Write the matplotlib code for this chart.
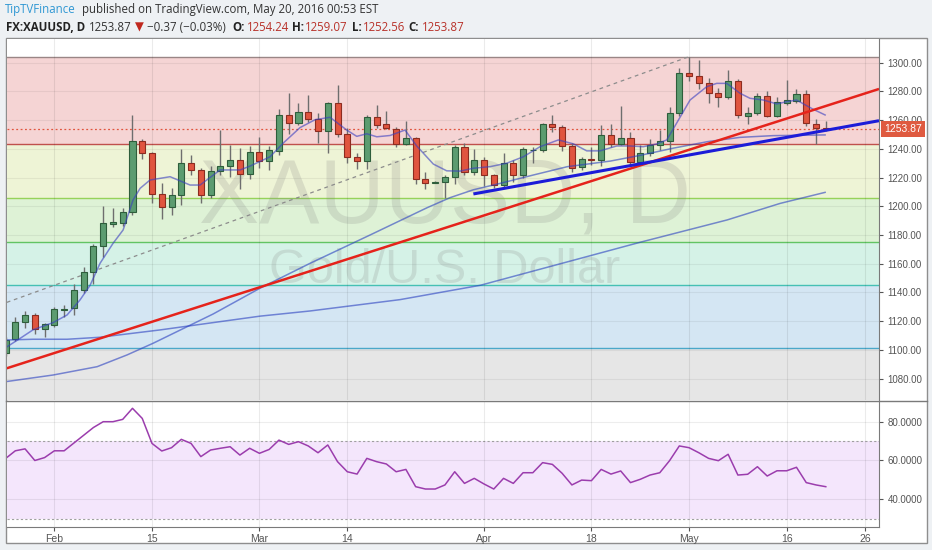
import numpy as np
import pandas as pd
import matplotlib
matplotlib.use('Agg')
import matplotlib.pyplot as plt
from matplotlib.lines import Line2D
from matplotlib.patches import Rectangle
from matplotlib import transforms

plt.rcParams['font.family'] = ['Liberation Sans', 'DejaVu Sans']

W, H = 932, 550

# ---- data (FX:XAUUSD daily, 25 Jan - 20 May 2016) ----
dates = pd.bdate_range('2016-01-25', '2016-05-20')

opens = [1098, 1107.6, 1119.6, 1124.3, 1114.3, 1117.4, 1128, 1129, 1141.7, 1154.5,
         1172.6, 1188, 1188.2, 1196.2, 1245.7, 1237, 1208.6, 1199.3, 1207.9, 1230.4,
         1225.3, 1208, 1224.6, 1228.3, 1232.2, 1222.3, 1237.6, 1231.5, 1238.7, 1263.6,
         1258.2, 1265.9, 1260.6, 1252.4, 1271.7, 1250.1, 1234.5, 1231.8, 1262, 1257.1,
         1253.6, 1243.2, 1247.4, 1219, 1216.5, 1216.7, 1220.6, 1241.5, 1224.1, 1232.2,
         1221.8, 1214.8, 1230.4, 1221.8, 1239, 1239.2, 1257.3, 1255, 1242, 1227.2,
         1233, 1232.2, 1249.6, 1243.4, 1247.4, 1231.1, 1236.9, 1242.7, 1245.7, 1264.8,
         1292.6, 1290.7, 1285.6, 1278.7, 1276.3, 1287.5, 1263.1, 1264.8, 1276.8, 1263.1,
         1272.1, 1273.3, 1278.2, 1257.5, 1254.24]
highs = [1109, 1122.7, 1127.3, 1126, 1119, 1130, 1131, 1145.7, 1157.5, 1174,
         1200.4, 1198.6, 1199, 1263.6, 1247, 1238, 1216, 1213, 1240, 1235.4,
         1226.5, 1227.8, 1253, 1242.7, 1240.4, 1242, 1248, 1242, 1267.5, 1279,
         1272, 1277.5, 1264.8, 1272.8, 1284.5, 1254.3, 1237.3, 1263.6, 1270.5, 1266.4,
         1255.4, 1259.6, 1248.5, 1224, 1217.5, 1222, 1242.7, 1244, 1239.7, 1234.5,
         1222.5, 1237, 1232.2, 1241.5, 1241.5, 1258, 1263.6, 1256.4, 1244, 1234.5,
         1241.5, 1256.6, 1257.3, 1269.8, 1252, 1242.7, 1246.7, 1253, 1269.4, 1296,
         1304, 1302, 1289, 1282.2, 1295, 1288.4, 1269, 1278.7, 1280.5, 1276.3,
         1288, 1281.5, 1281, 1260.6, 1259.07]
lows = [1096, 1106, 1115, 1111, 1108.8, 1115.7, 1123, 1124.3, 1139.8, 1146,
        1164.5, 1185.8, 1186, 1194, 1232.7, 1202, 1191, 1194, 1201, 1221.5,
        1202, 1205.6, 1221.8, 1220.6, 1211.8, 1219, 1227, 1225, 1236, 1250,
        1256.6, 1259, 1243.9, 1237, 1248, 1230, 1225.8, 1225.8, 1254.7, 1253.6,
        1241, 1242.7, 1215.5, 1211.8, 1216, 1205.6, 1215.5, 1222, 1221.8, 1214,
        1213, 1213.6, 1217, 1220, 1230, 1238, 1252, 1238.5, 1224, 1225.3,
        1228.8, 1228, 1241, 1242.7, 1228.8, 1229.5, 1235, 1239, 1238, 1263,
        1287.5, 1282, 1271.7, 1269, 1274.5, 1261.3, 1257.3, 1263.6, 1262.4, 1262.4,
        1270.5, 1271.7, 1256, 1243.5, 1252.56]
closes = [1107, 1119.6, 1124.3, 1114.3, 1117.8, 1128.3, 1128.6, 1141.7, 1154.5, 1172.6,
          1188.2, 1189, 1196.2, 1245.7, 1237, 1208.4, 1199.3, 1207.9, 1230.4, 1225.3,
          1208, 1224.6, 1228.3, 1232.2, 1222.3, 1237.6, 1231.5, 1239.2, 1263.6, 1258.2,
          1265.9, 1260.6, 1252.4, 1271.7, 1250.1, 1234.5, 1231.8, 1262, 1256.6, 1254.3,
          1243.4, 1247.4, 1219, 1216.4, 1216.8, 1220.6, 1241.5, 1224.1, 1232.2, 1221.8,
          1214.8, 1230.4, 1221.8, 1239.7, 1239.5, 1257.3, 1255, 1242, 1226.9, 1232.7,
          1232, 1249.6, 1243.4, 1247.4, 1231.1, 1237.3, 1242.7, 1245.7, 1264.8, 1293,
          1290.7, 1285.6, 1278.7, 1276.3, 1287.5, 1263.6, 1265.2, 1276.8, 1263.1, 1272.4,
          1274, 1278.2, 1257.8, 1254.2, 1253.87]

rsi = [61, 65, 66, 60, 61.5, 65, 65, 69, 73, 77,
       80, 80, 81.2, 86.9, 81.7, 68.8, 64.9, 66.6, 70.9, 68.8,
       62, 65.4, 66.3, 67.1, 62.8, 66.3, 63.7, 65.7, 70.5, 68.3,
       69.7, 67.5, 64, 68, 59.4, 54.2, 53, 61.1, 59.4, 58.2,
       54.2, 55.4, 46.5, 45.3, 45.3, 47.4, 54.2, 48.2, 50.8, 47.9,
       45.3, 50.8, 48.2, 53.7, 53.7, 58.9, 58, 53.4, 47.4, 49.9,
       49.6, 55.4, 53, 54.6, 48.6, 50.3, 52.5, 53.7, 59.9, 67.5,
       66.6, 64, 61.1, 59.9, 63.2, 52.5, 52.9, 56.8, 52, 54.7,
       54.7, 56.5, 48.6, 47.4, 46.5]

# moving averages, sampled along the drawn lines (bar index, price)
fast_ma_idx = [0.16, 1.49, 2.82, 4.87, 6.3, 7.63, 8.66, 9.68, 11.01, 12.04,
               13.06, 13.78, 14.8, 16.85, 18.9, 19.92, 21.97, 24.02, 25.04, 27.09,
               28.42, 30.16, 31.7, 33.23, 34.94, 35.97, 36.99, 38.02, 39.38, 40.91,
               42.11, 43.81, 45.18, 46.55, 47.91, 49.62, 51.33, 53.03, 54.74, 56.61,
               58.15, 59.52, 60.88, 62.59, 63.95, 65.31, 66.68, 67.71, 68.39, 70.1,
               71.81, 72.83, 73.86, 75.22, 76.24, 77.61, 78.98, 80.0, 81.0, 82.73,
               83.93]
fast_ma_val = [1102.2, 1108, 1114, 1119, 1124.3, 1134.8, 1145, 1160.3, 1174.2, 1183.5,
               1204.4, 1212.5, 1218.3, 1220.6, 1214.8, 1214.8, 1225.3, 1225.3, 1228, 1234.5,
               1243.9, 1254.8, 1260.3, 1262, 1253.1, 1248.7, 1250.5, 1248.4, 1249.3, 1253.1,
               1242, 1229.4, 1224.7, 1224.5, 1226.5, 1227.6, 1230, 1234.5, 1241.5, 1246.2,
               1243.5, 1238.6, 1238.6, 1242, 1242, 1241.5, 1243.4, 1246.2, 1254, 1274,
               1283.3, 1285.6, 1285.6, 1278.7, 1275.2, 1274, 1271.3, 1272.8, 1274, 1267.5,
               1263.6]
mid_ma_idx = [0.16, 4.87, 9.38, 12.45, 15.11, 21.26, 26.07, 31.19, 37.33, 43.17, 45.52,
              47.91, 50.68, 54.06, 57.54, 61.95, 65.02, 68.4, 71.88, 75.22, 78.6, 83.93]
mid_ma_val = [1078, 1082.5, 1088.3, 1096.5, 1104.6, 1125, 1143, 1160.3, 1180, 1199, 1206,
              1211.5, 1216, 1221.8, 1227.6, 1231.5, 1235.5, 1240.5, 1245, 1248, 1249.2, 1249.7]
slow_ma_idx = [0.16, 2.82, 6.3, 9.68, 13.06, 15.83, 21.26, 26.07, 31.19, 40.4, 48.63,
               56.83, 65.02, 73.9, 79.32, 83.93]
slow_ma_val = [1106.9, 1107.4, 1107.4, 1108.8, 1111.6, 1113.9, 1119, 1123.5, 1127.1, 1135, 1145,
               1160, 1175, 1190.5, 1202, 1209.7]

# drawings
fib_levels = [1303.8, 1243.2, 1205.6, 1175.1, 1145.0, 1101.5, 1046.8]
fib_diag_idx = [0.13, 70.0]
fib_diag_val = [1133.1, 1304.2]
red_trend_idx = [0.13, 89.45]
red_trend_val = [1087.2, 1281.7]
blue_trend_idx = [47.91, 89.45]
blue_trend_val = [1208.6, 1259.6]
last_price = 1253.87

tick_dates = ['2016-02-01', '2016-02-15', '2016-03-01', '2016-03-14', '2016-04-01',
              '2016-04-18', '2016-05-02', '2016-05-16', '2016-05-26']
tick_labels = ['Feb', '15', 'Mar', '14', 'Apr', '18', 'May', '16', '26']
price_ticks = list(range(1080, 1301, 20))
rsi_ticks = [40, 60, 80]

# ---- styling ----
band_colors = ['#f5d4d4', '#eef4d6', '#def2d6', '#d5f2e7', '#d4e6f3', '#e6e6e6']
fib_line_colors = ['#9a8686', '#c0504d', '#96d25a', '#62c463', '#46c0b4', '#4aa8c9', '#999999']
green_body, green_edge = '#5c9c70', '#2e5e3b'
red_body, red_edge = '#e0553f', '#8c2c20'


def fx(px):
    return px / W


def fy(py):
    return 1 - py / H


fig = plt.figure(figsize=(W / 100, H / 100), dpi=100, facecolor='#eef1f4')
fig.patches.append(Rectangle((fx(6), fy(543)), fx(926.5) - fx(6), fy(38) - fy(543),
                             transform=fig.transFigure, facecolor='white',
                             edgecolor='#8e8e8e', lw=1, zorder=-1))

ax = fig.add_axes([fx(7), fy(400), fx(879) - fx(7), fy(39) - fy(400)])
rax = fig.add_axes([fx(7), fy(527), fx(879) - fx(7), fy(401) - fy(527)])

x = np.arange(len(opens))
o, h, l, c = (np.array(v, dtype=float) for v in (opens, highs, lows, closes))
tick_pos = [np.busday_count('2016-01-25', d) for d in tick_dates]
xlim = (0.15, 89.45)

# ---- price pane ----
for k in range(len(fib_levels) - 1):
    ax.axhspan(fib_levels[k + 1], fib_levels[k], color=band_colors[k], lw=0, zorder=0)
for lev, col in zip(fib_levels, fib_line_colors):
    ax.axhline(lev, color=col, lw=1, zorder=1)
for v in price_ticks:
    ax.axhline(v, color='black', alpha=0.06, lw=0.8, zorder=1)
for t in tick_pos:
    ax.axvline(t, color='black', alpha=0.08, lw=0.8, zorder=1)

# watermark
ax.text(45.0, 1188.9, 'XAUUSD, D', fontsize=65, color='#808080', alpha=0.2,
        ha='center', va='baseline', family='Liberation Sans', zorder=1.5)
ax.text(45.0, 1146.6, 'Gold/U.S. Dollar', fontsize=35, color='#808080', alpha=0.2,
        ha='center', va='baseline', family='Liberation Sans', zorder=1.5)

ax.axhline(last_price, color='#e0553f', lw=0.9, ls=(0, (1.5, 2)), zorder=2)
ax.plot(fib_diag_idx, fib_diag_val, color='#8c8c8c', lw=0.9, ls=(0, (3, 3)), zorder=2)

up = c >= o
body_lo = np.minimum(o, c)
body_h = np.maximum(np.abs(c - o), 0.4)
ax.vlines(x, l, h, color='#6e6e6e', lw=1, zorder=4)
ax.bar(x[up], body_h[up], bottom=body_lo[up], width=0.62, color=green_body,
       edgecolor=green_edge, lw=0.8, zorder=5)
ax.bar(x[~up], body_h[~up], bottom=body_lo[~up], width=0.62, color=red_body,
       edgecolor=red_edge, lw=0.8, zorder=5)

ax.plot(slow_ma_idx, slow_ma_val, color='#2a40c0', alpha=0.6, lw=1.1, zorder=6)
ax.plot(mid_ma_idx, mid_ma_val, color='#2a40c0', alpha=0.6, lw=1.1, zorder=6)
ax.plot(fast_ma_idx, fast_ma_val, color='#3a3fc0', alpha=0.6, lw=1.1, zorder=6)

ax.plot(red_trend_idx, red_trend_val, color='#e5231b', lw=1.8, zorder=7, solid_capstyle='butt')
ax.plot(blue_trend_idx, blue_trend_val, color='#1c1cd8', lw=2.2, zorder=7, solid_capstyle='butt')

ax.set_xlim(*xlim)
ax.set_ylim(1065.1, 1316.5)
ax.yaxis.tick_right()
ax.set_yticks(price_ticks)
ax.set_yticklabels(['%.2f' % v for v in price_ticks])
ax.tick_params(axis='y', labelsize=7, colors='#555555', length=3, pad=3, width=0.8)
ax.tick_params(axis='x', bottom=False, labelbottom=False)
for s in ('top', 'bottom', 'left'):
    ax.spines[s].set_visible(False)
ax.spines['right'].set_color('#7a7a7a')

trans = transforms.blended_transform_factory(ax.transAxes, ax.transData)
ax.text(1.0057, last_price, '%.2f' % last_price, transform=trans, color='white',
        fontsize=7.5, ha='left', va='center', zorder=10, clip_on=False,
        bbox=dict(boxstyle='square,pad=0.28', fc='#df5a40', ec='none'))

# ---- RSI pane ----
rax.axhspan(30, 70, color='#f4e6fc', lw=0, zorder=0)
for v in (30, 70):
    rax.axhline(v, color='#a0a0a0', lw=0.8, ls=(0, (2, 2)), zorder=1)
for v in rsi_ticks:
    rax.axhline(v, color='black', alpha=0.07, lw=0.8, zorder=1)
for t in tick_pos:
    rax.axvline(t, color='black', alpha=0.08, lw=0.8, zorder=1)
rax.plot(x, rsi, color='#9b3dad', lw=1.1, zorder=3)

rax.set_xlim(*xlim)
rax.set_ylim(25.72, 90.67)
rax.yaxis.tick_right()
rax.set_yticks(rsi_ticks)
rax.set_yticklabels(['%.4f' % v for v in rsi_ticks])
rax.set_xticks(tick_pos)
rax.set_xticklabels(tick_labels)
rax.tick_params(axis='y', labelsize=7, colors='#555555', length=3, pad=3, width=0.8)
rax.tick_params(axis='x', labelsize=7.5, colors='#555555', length=3, pad=2, width=0.8)
for s in ('top', 'left'):
    rax.spines[s].set_visible(False)
for s in ('right', 'bottom'):
    rax.spines[s].set_color('#7a7a7a')

# separator between panes
fig.add_artist(Line2D([fx(6), fx(926.5)], [fy(400.5), fy(400.5)], color='#7a7a7a',
                      lw=1, transform=fig.transFigure))

# ---- header ----
hfam = ['Open Sans', 'DejaVu Sans']
fig.text(fx(5), fy(13.5), 'TipTVFinance', color='#2f97d3', fontsize=8.3,
         family=hfam, va='baseline')
fig.text(fx(82), fy(13.5), 'published on TradingView.com, May 20, 2016 00:53 EST',
         color='#333333', fontsize=8.3, family=hfam, va='baseline')

segments = [
    (6, 'FX:XAUUSD, D', '#222222', 'bold'),
    (89, '1253.87', '#333333', 'normal'),
    (135, '\u25bc', '#c0281e', 'normal'),
    (147, '\u22120.37 (\u22120.03%)', '#333333', 'normal'),
    (232, 'O:', '#222222', 'bold'),
    (247, '1254.24', '#b8322a', 'normal'),
    (292, 'H:', '#222222', 'bold'),
    (305, '1259.07', '#b8322a', 'normal'),
    (352, 'L:', '#222222', 'bold'),
    (363, '1252.56', '#b8322a', 'normal'),
    (408, 'C:', '#222222', 'bold'),
    (422, '1253.87', '#b8322a', 'normal'),
]
for px, txt, col, wt in segments:
    fig.text(fx(px), fy(31), txt, color=col, fontsize=8.3, fontweight=wt,
             family=hfam, va='baseline')

fig.savefig('out.png', dpi=100, facecolor=fig.get_facecolor())
